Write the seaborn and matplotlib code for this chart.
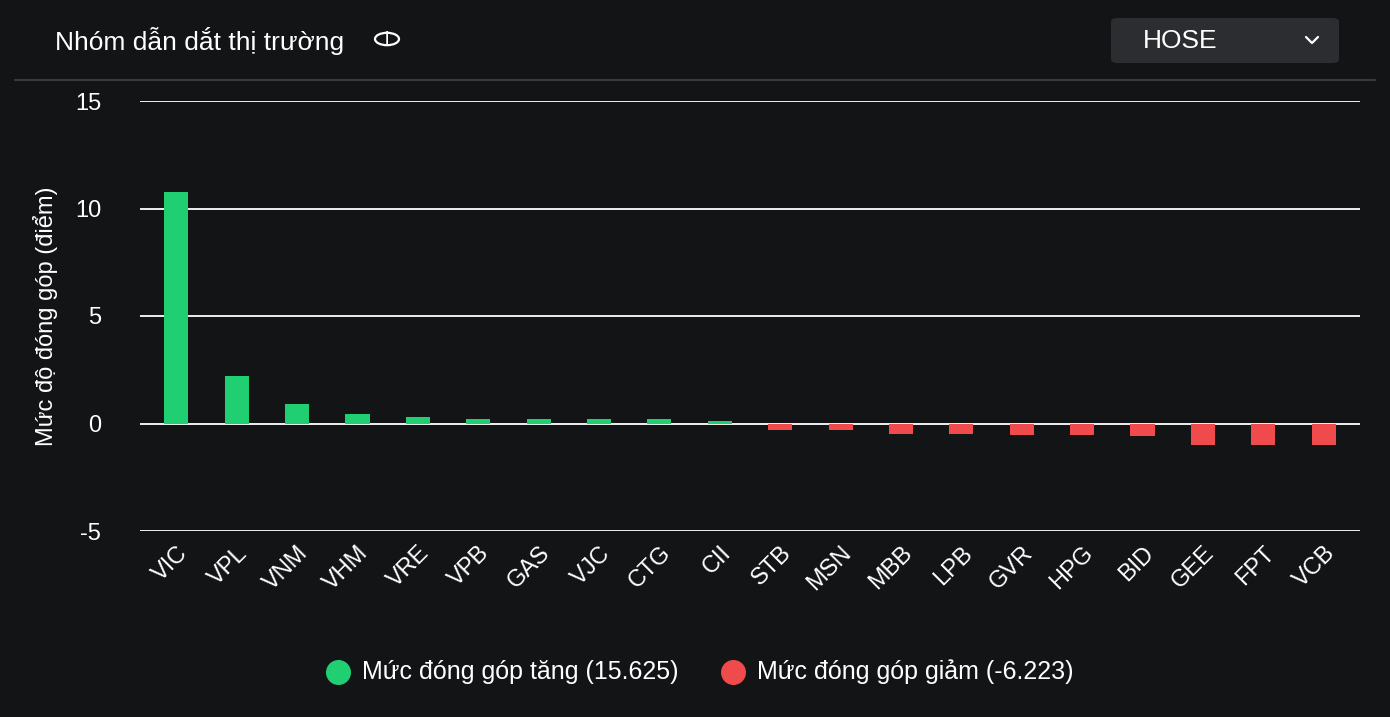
import matplotlib
matplotlib.use("Agg")
import matplotlib.pyplot as plt
import seaborn as sns
import pandas as pd
from matplotlib.patches import FancyBboxPatch, Circle

tickers = ["VIC","VPL","VNM","VHM","VRE","VPB","GAS","VJC","CTG","CII",
           "STB","MSN","MBB","LPB","GVR","HPG","BID","GEE","FPT","VCB"]
values = [10.75,2.2,0.93,0.42,0.3,0.22,0.22,0.22,0.2,0.1,
          -0.3,-0.3,-0.47,-0.47,-0.55,-0.55,-0.6,-0.98,-0.98,-0.98]
yticks = [-5,0,5,10,15]
title = "Nhóm dẫn dắt thị trường"
ylabel = "Mức độ đóng góp (điểm)"
legend_up = "Mức đóng góp tăng (15.625)"
legend_down = "Mức đóng góp giảm (-6.223)"
GREEN = "#1fcf72"; RED = "#ef4a4c"; BG = "#131416"

sns.set_theme(style="dark")
plt.rcParams['font.family'] = ['Liberation Sans', 'DejaVu Sans']

df = pd.DataFrame({"ticker": tickers, "value": values})
df["sign"] = ["up" if v >= 0 else "down" for v in values]

W, H = 1390, 717
fig = plt.figure(figsize=(W/100, H/100), dpi=100, facecolor=BG)
ax = fig.add_axes([140/W, 1-531/H, 1220/W, 430/H])
ax.set_facecolor(BG)
for y in yticks:
    ax.axhline(y, color="white", lw=1.3, zorder=0)
sns.barplot(data=df, x="ticker", y="value", hue="sign", palette={"up": GREEN, "down": RED},
            width=0.4, dodge=False, legend=False, saturation=1, linewidth=0, ax=ax, zorder=2)
ax.set_ylim(-5, 15)
ax.set_xlim(-0.6, 19.6)
ax.set_yticks(yticks)
ax.set_yticklabels([str(t) for t in yticks], color="white", fontsize=17)
ax.tick_params(axis="y", length=0, pad=28)
ax.tick_params(axis="x", length=0, pad=8)
ax.set_xticks(range(len(tickers)))
ax.set_xticklabels(tickers, rotation=45, ha="right", rotation_mode="anchor", color="white", fontsize=17)
ax.set_xlabel("")
ax.set_ylabel(ylabel, color="white", fontsize=17, labelpad=12)
for s in ax.spines.values():
    s.set_visible(False)

fig.text(55/W, 1-41/H, title, color="white", fontsize=19, va="center")
fig.add_artist(Circle((387/W, 1-39/H), 12/W, transform=fig.transFigure, fill=False,
                      edgecolor="white", lw=1.6))
fig.text(387/W, 1-39/H, "i", color="white", fontsize=14, va="center", ha="center")
fig.add_artist(plt.Line2D([15/W, 1375/W], [1-80/H, 1-80/H], color="#3a3b3e", lw=1.5))
box = FancyBboxPatch((1111/W, 1-63/H), 228/W, 45/H, boxstyle="round,pad=0,rounding_size=0.005",
                     transform=fig.transFigure, facecolor="#2c2d31", edgecolor="none")
fig.add_artist(box)
fig.text(1143/W, 1-41/H, "HOSE", color="white", fontsize=19, va="center")
fig.add_artist(plt.Line2D([1306/W, 1312/W, 1318/W], [1-37/H, 1-43/H, 1-37/H], color="white", lw=1.6))

fig.add_artist(plt.Line2D([338/W], [1-672/H], marker="o", ms=17, color=GREEN, transform=fig.transFigure, lw=0))
fig.text(362/W, 1-672/H, legend_up, color="white", fontsize=18, va="center")
fig.add_artist(plt.Line2D([733/W], [1-672/H], marker="o", ms=17, color=RED, transform=fig.transFigure, lw=0))
fig.text(757/W, 1-672/H, legend_down, color="white", fontsize=18, va="center")

fig.savefig("out.png", dpi=100, facecolor=BG)
